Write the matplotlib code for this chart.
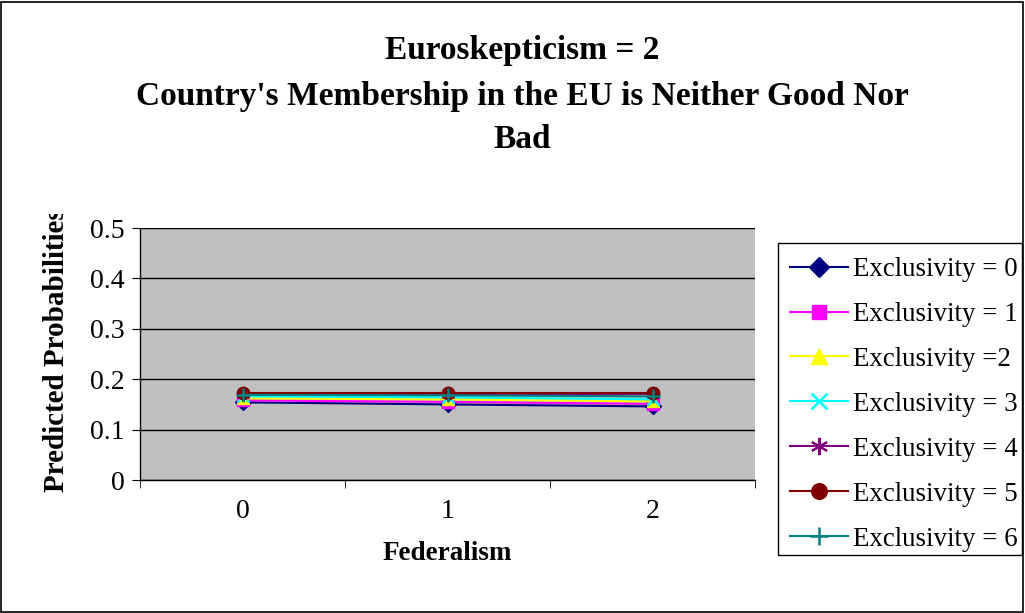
import matplotlib
matplotlib.use("Agg")
import matplotlib.pyplot as plt
from matplotlib.transforms import Bbox
from matplotlib.patches import Rectangle

plt.rcParams['font.family'] = ['Liberation Serif', 'DejaVu Serif']

# data
federalism = ["0", "1", "2"]
labels = ["Exclusivity = 0", "Exclusivity = 1", "Exclusivity =2", "Exclusivity = 3",
          "Exclusivity = 4", "Exclusivity = 5", "Exclusivity = 6"]
excl0 = [0.154, 0.150, 0.146]
excl1 = [0.158, 0.155, 0.151]
excl2 = [0.162, 0.160, 0.156]
excl3 = [0.166, 0.164, 0.160]
excl4 = [0.170, 0.170, 0.171]
excl5 = [0.172, 0.172, 0.172]
excl6 = [0.169, 0.168, 0.166]

series = [excl0, excl1, excl2, excl3, excl4, excl5, excl6]
colors = ["#000080", "#FF00FF", "#FFFF00", "#00FFFF", "#800080", "#800000", "#008080"]
markers = ["D", "s", "^", "x", "*", "o", "+"]
msizes = [8, 8, 9, 9, 10, 9, 10]

W, H = 1025, 613
fig = plt.figure(figsize=(10.25, 6.13), dpi=100)
fig.patches.append(Rectangle((0.001, 0.001), 0.997, 0.996, transform=fig.transFigure,
                             fill=False, edgecolor="black", linewidth=1.2))
# legend box
fig.patches.append(Rectangle((778 / W, 1 - 555 / H), 244 / W, 312 / H,
                             transform=fig.transFigure, fill=False,
                             edgecolor="black", linewidth=1))

ax = fig.add_axes([140 / W, 1 - 480 / H, 615 / W, 252 / H])
ax.set_facecolor("#C0C0C0")

x = list(range(len(federalism)))
for vals, c, m, ms, lab in zip(series, colors, markers, msizes, labels):
    mk = dict(marker=m, markersize=ms, markerfacecolor=c, markeredgecolor=c)
    if m == "*":
        mk = dict(marker=(6, 2, 0), markersize=ms, markeredgecolor=c, markeredgewidth=1.5)
    if m in ("x", "+"):
        mk["markeredgewidth"] = 1.8
    ax.plot(x, vals, color=c, linewidth=1.5, label=lab, **mk)

ax.set_xlim(-0.5, 2.5)
ax.set_ylim(0, 0.5)
ax.set_yticks([0, 0.1, 0.2, 0.3, 0.4, 0.5])
ax.set_yticklabels(["0", "0.1", "0.2", "0.3", "0.4", "0.5"], fontsize=20)
ax.set_xticks(x)
ax.set_xticklabels(federalism, fontsize=20)
ax.set_xticks([-0.5, 0.5, 1.5, 2.5], minor=True)
ax.tick_params(axis="x", which="major", length=0, pad=14)
ax.tick_params(axis="x", which="minor", length=6, direction="out", color="black")
ax.tick_params(axis="y", length=6, direction="out", pad=5)
ax.grid(axis="y", color="black", linewidth=1)
ax.set_axisbelow(True)
for s in ["top", "right"]:
    ax.spines[s].set_visible(False)
for s in ["left", "bottom"]:
    ax.spines[s].set_color("black")
    ax.spines[s].set_linewidth(1)

ax.set_xlabel("Federalism", fontsize=19.5, fontweight="bold", labelpad=12)

# y label, cut off at the top like the original
yl = fig.text(57 / W, 1 - 350 / H, "Predicted Probabilities", rotation=90,
              fontsize=21, fontweight="bold", ha="center", va="center")
yl.set_clip_box(Bbox.from_extents(0, 0, W, H - 214))
yl.set_clip_on(True)

fig.text(522 / W, 1 - 50 / H, "Euroskepticism = 2", fontsize=24, fontweight="bold",
         ha="center", va="center")
fig.text(522 / W, 1 - 97 / H, "Country's Membership in the EU is Neither Good Nor",
         fontsize=24, fontweight="bold", ha="center", va="center")
fig.text(522 / W, 1 - 140 / H, "Bad", fontsize=24, fontweight="bold",
         ha="center", va="center")

leg = fig.legend(loc="upper left", bbox_to_anchor=(790 / W, 1 - 257 / H), fontsize=19.4,
                 frameon=False, handlelength=2.15, handletextpad=0.2,
                 labelspacing=0.74, borderpad=0, borderaxespad=0, markerscale=1.25)

fig.savefig("out.png", dpi=100)
